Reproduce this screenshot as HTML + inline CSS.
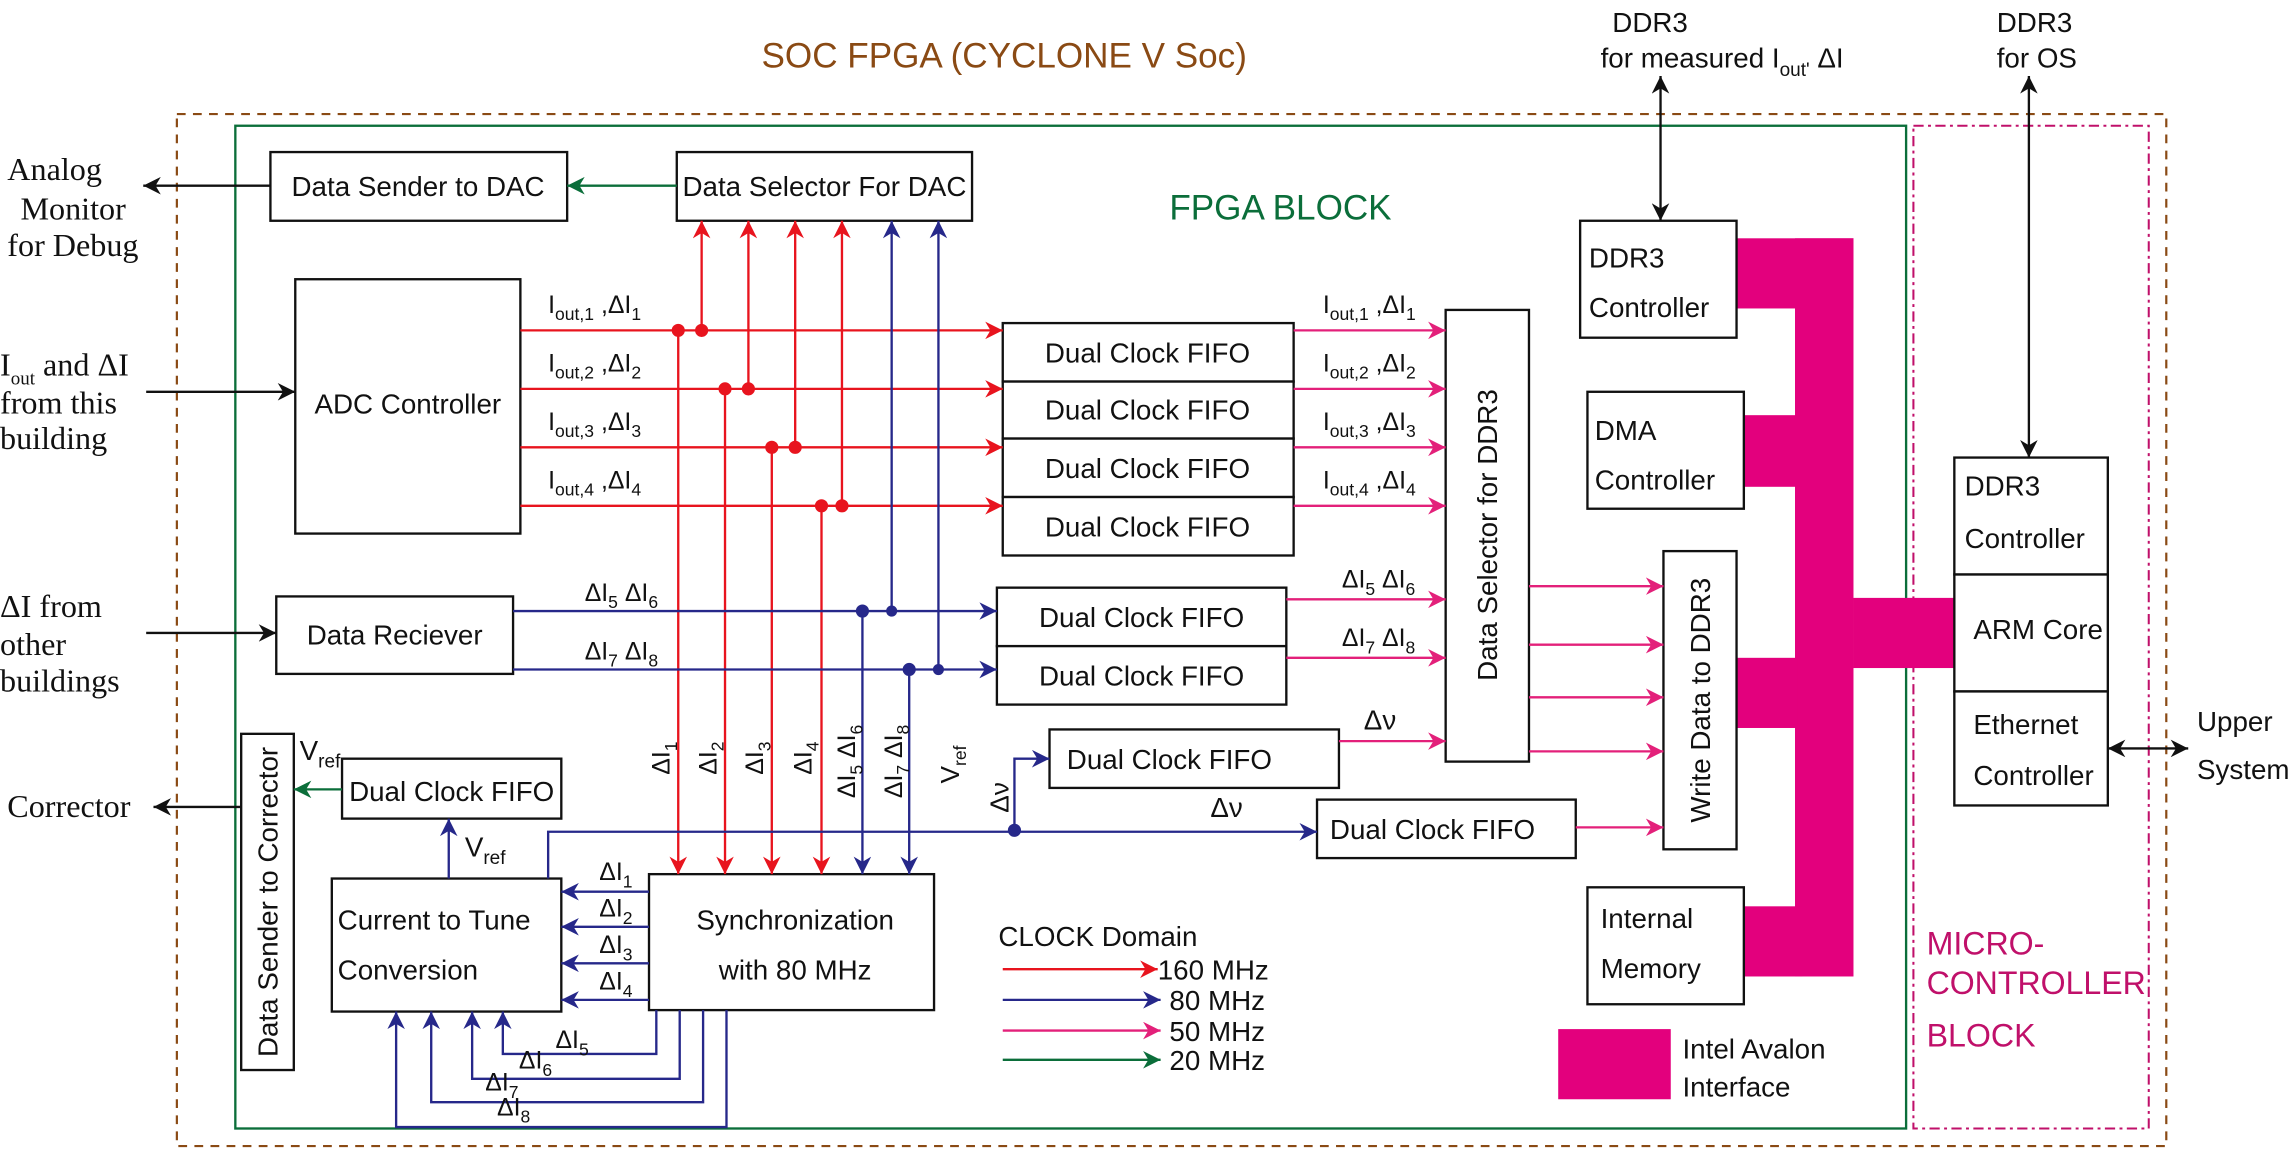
<!DOCTYPE html>
<html><head><meta charset="utf-8"><style>
html,body{margin:0;padding:0;background:#fff;overflow:hidden}
svg{display:block}
text{font-family:"Liberation Sans",sans-serif;font-size:19px;fill:#111}
.s{font-family:"Liberation Serif",serif;font-size:22px}
.b{fill:#fff;stroke:#111;stroke-width:1.6}
.r{stroke:#e8141e;stroke-width:1.6;fill:none}
.u{stroke:#26288a;stroke-width:1.6;fill:none}
.p{stroke:#e3207a;stroke-width:1.6;fill:none}
.g{stroke:#0b6e3a;stroke-width:1.6;fill:none}
.k{stroke:#111;stroke-width:1.6;fill:none}
</style></head><body>
<svg width="2292" height="1149" viewBox="0 0 1568 786" xmlns="http://www.w3.org/2000/svg">
<defs>
<marker id="ar" viewBox="0 0 10 10" refX="10" refY="5" markerWidth="12" markerHeight="12" markerUnits="userSpaceOnUse" orient="auto-start-reverse"><path d="M0,0L10,5L0,10L3,5z" fill="#e8141e"/></marker>
<marker id="au" viewBox="0 0 10 10" refX="10" refY="5" markerWidth="12" markerHeight="12" markerUnits="userSpaceOnUse" orient="auto-start-reverse"><path d="M0,0L10,5L0,10L3,5z" fill="#26288a"/></marker>
<marker id="ap" viewBox="0 0 10 10" refX="10" refY="5" markerWidth="12" markerHeight="12" markerUnits="userSpaceOnUse" orient="auto-start-reverse"><path d="M0,0L10,5L0,10L3,5z" fill="#e3207a"/></marker>
<marker id="ag" viewBox="0 0 10 10" refX="10" refY="5" markerWidth="12" markerHeight="12" markerUnits="userSpaceOnUse" orient="auto-start-reverse"><path d="M0,0L10,5L0,10L3,5z" fill="#0b6e3a"/></marker>
<marker id="ak" viewBox="0 0 10 10" refX="10" refY="5" markerWidth="12" markerHeight="12" markerUnits="userSpaceOnUse" orient="auto-start-reverse"><path d="M0,0L10,5L0,10L3,5z" fill="#111"/></marker>
</defs>

<!-- frames -->
<rect x="121" y="78" width="1361" height="706" fill="none" stroke="#8a4a14" stroke-width="1.5" stroke-dasharray="6,5"/>
<rect x="161" y="86" width="1143" height="686" fill="none" stroke="#0b6e3a" stroke-width="1.6"/>
<rect x="1309" y="86" width="161" height="686" fill="none" stroke="#c0106a" stroke-width="1.4" stroke-dasharray="7,3,2,3"/>
<text x="687" y="46" text-anchor="middle" style="font-size:24px;fill:#8a4a14">SOC FPGA (CYCLONE V Soc)</text>
<text x="876" y="150" text-anchor="middle" style="font-size:24px;fill:#0b6e3a">FPGA BLOCK</text>
<text x="1318" y="653" style="font-size:22px;fill:#c0106a">MICRO-</text>
<text x="1318" y="680" style="font-size:22px;fill:#c0106a" textLength="150" lengthAdjust="spacingAndGlyphs">CONTROLLER</text>
<text x="1318" y="716" style="font-size:22px;fill:#c0106a">BLOCK</text>

<!-- avalon bus -->
<g fill="#e3007d">
<rect x="1188" y="163" width="80" height="48"/>
<rect x="1228" y="163" width="40" height="505"/>
<rect x="1193" y="284" width="40" height="49"/>
<rect x="1188" y="450" width="42" height="48"/>
<rect x="1193" y="620" width="40" height="48"/>
<rect x="1268" y="409" width="69" height="48"/>
<rect x="1066" y="704" width="77" height="48"/>
</g>
<text x="1151" y="724">Intel Avalon</text>
<text x="1151" y="750">Interface</text>

<!-- boxes -->
<rect class="b" x="185" y="104" width="203" height="47"/><text x="286" y="134" text-anchor="middle">Data Sender to DAC</text>
<rect class="b" x="463" y="104" width="202" height="47"/><text x="564" y="134" text-anchor="middle">Data Selector For DAC</text>
<rect class="b" x="202" y="191" width="154" height="174"/><text x="279" y="283" text-anchor="middle">ADC Controller</text>
<rect class="b" x="686" y="221" width="199" height="40"/><text x="785" y="248" text-anchor="middle">Dual Clock FIFO</text>
<rect class="b" x="686" y="261" width="199" height="39"/><text x="785" y="287" text-anchor="middle">Dual Clock FIFO</text>
<rect class="b" x="686" y="300" width="199" height="40"/><text x="785" y="327" text-anchor="middle">Dual Clock FIFO</text>
<rect class="b" x="686" y="340" width="199" height="40"/><text x="785" y="367" text-anchor="middle">Dual Clock FIFO</text>
<rect class="b" x="682" y="402" width="198" height="40"/><text x="781" y="429" text-anchor="middle">Dual Clock FIFO</text>
<rect class="b" x="682" y="442" width="198" height="40"/><text x="781" y="469" text-anchor="middle">Dual Clock FIFO</text>
<rect class="b" x="718" y="499" width="198" height="40"/><text x="800" y="526" text-anchor="middle">Dual Clock FIFO</text>
<rect class="b" x="901" y="547" width="177" height="40"/><text x="980" y="574" text-anchor="middle">Dual Clock FIFO</text>
<rect class="b" x="989" y="212" width="57" height="309"/><text transform="translate(1024,366) rotate(-90)" text-anchor="middle">Data Selector for DDR3</text>
<rect class="b" x="1138" y="377" width="50" height="204"/><text transform="translate(1170,479) rotate(-90)" text-anchor="middle">Write Data to DDR3</text>
<rect class="b" x="1081" y="151" width="107" height="80"/><text x="1087" y="183">DDR3</text><text x="1087" y="217">Controller</text>
<rect class="b" x="1086" y="268" width="107" height="80"/><text x="1091" y="301">DMA</text><text x="1091" y="335">Controller</text>
<rect class="b" x="1086" y="607" width="107" height="80"/><text x="1095" y="635">Internal</text><text x="1095" y="669">Memory</text>
<rect class="b" x="1337" y="313" width="105" height="80"/><text x="1344" y="339">DDR3</text><text x="1344" y="375">Controller</text>
<rect class="b" x="1337" y="393" width="105" height="80"/><text x="1350" y="437">ARM Core</text>
<rect class="b" x="1337" y="473" width="105" height="78"/><text x="1350" y="502">Ethernet</text><text x="1350" y="537">Controller</text>
<rect class="b" x="189" y="408" width="162" height="53"/><text x="270" y="441" text-anchor="middle">Data Reciever</text>
<rect class="b" x="165" y="502" width="36" height="230"/><text transform="translate(190,617) rotate(-90)" text-anchor="middle">Data Sender to Corrector</text>
<rect class="b" x="234" y="519" width="150" height="41"/><text x="309" y="548" text-anchor="middle">Dual Clock FIFO</text>
<rect class="b" x="227" y="601" width="157" height="91"/><text x="231" y="636">Current to Tune</text><text x="231" y="670">Conversion</text>
<rect class="b" x="444" y="598" width="195" height="93"/><text x="544" y="636" text-anchor="middle">Synchronization</text><text x="544" y="670" text-anchor="middle">with 80 MHz</text>

<!-- external labels -->
<text class="s" x="5" y="123">Analog</text><text class="s" x="14" y="150">Monitor</text><text class="s" x="5" y="175">for Debug</text>
<text class="s" x="0" y="257">I<tspan dy="6" style="font-size:13px">out</tspan><tspan dy="-6"> and ΔI</tspan></text>
<text class="s" x="0" y="283">from this</text><text class="s" x="0" y="307">building</text>
<text class="s" x="0" y="422">ΔI from</text><text class="s" x="0" y="448">other</text><text class="s" x="0" y="473">buildings</text>
<text class="s" x="5" y="559">Corrector</text>
<text x="1103" y="22">DDR3</text>
<text x="1095" y="46">for measured I<tspan dy="6" style="font-size:13px">out'</tspan><tspan dy="-6"> ΔI</tspan></text>
<text x="1366" y="22">DDR3</text><text x="1366" y="46">for OS</text>
<text x="1503" y="500">Upper</text><text x="1503" y="533">System</text>

<!-- black arrows -->
<line class="k" x1="185" y1="127" x2="98" y2="127" marker-end="url(#ak)"/>
<line class="k" x1="100" y1="268" x2="202" y2="268" marker-end="url(#ak)"/>
<line class="k" x1="100" y1="433" x2="189" y2="433" marker-end="url(#ak)"/>
<line class="k" x1="165" y1="552" x2="105" y2="552" marker-end="url(#ak)"/>
<line class="k" x1="1136" y1="52" x2="1136" y2="151" marker-start="url(#ak)" marker-end="url(#ak)"/>
<line class="k" x1="1388" y1="52" x2="1388" y2="313" marker-start="url(#ak)" marker-end="url(#ak)"/>
<line class="k" x1="1442" y1="512" x2="1497" y2="512" marker-start="url(#ak)" marker-end="url(#ak)"/>

<!-- green -->
<line class="g" x1="463" y1="127" x2="388" y2="127" marker-end="url(#ag)"/>
<line class="g" x1="234" y1="540" x2="201" y2="540" marker-end="url(#ag)"/>
<text x="205" y="520">V<tspan dy="5" style="font-size:13px">ref</tspan></text>

<!-- red -->
<line class="r" x1="356" y1="226" x2="686" y2="226" marker-end="url(#ar)"/>
<line class="r" x1="356" y1="266" x2="686" y2="266" marker-end="url(#ar)"/>
<line class="r" x1="356" y1="306" x2="686" y2="306" marker-end="url(#ar)"/>
<line class="r" x1="356" y1="346" x2="686" y2="346" marker-end="url(#ar)"/>
<line class="r" x1="480" y1="226" x2="480" y2="151" marker-end="url(#ar)"/>
<line class="r" x1="512" y1="266" x2="512" y2="151" marker-end="url(#ar)"/>
<line class="r" x1="544" y1="306" x2="544" y2="151" marker-end="url(#ar)"/>
<line class="r" x1="576" y1="346" x2="576" y2="151" marker-end="url(#ar)"/>
<line class="r" x1="464" y1="226" x2="464" y2="598" marker-end="url(#ar)"/>
<line class="r" x1="496" y1="266" x2="496" y2="598" marker-end="url(#ar)"/>
<line class="r" x1="528" y1="306" x2="528" y2="598" marker-end="url(#ar)"/>
<line class="r" x1="562" y1="346" x2="562" y2="598" marker-end="url(#ar)"/>
<g fill="#e8141e"><circle cx="464" cy="226" r="4.5"/><circle cx="480" cy="226" r="4.5"/><circle cx="496" cy="266" r="4.5"/><circle cx="512" cy="266" r="4.5"/><circle cx="528" cy="306" r="4.5"/><circle cx="544" cy="306" r="4.5"/><circle cx="562" cy="346" r="4.5"/><circle cx="576" cy="346" r="4.5"/></g>
<text x="375" y="214" style="font-size:17px">I<tspan dy="5" style="font-size:12px">out,1</tspan><tspan dy="-5"> ,ΔI</tspan><tspan dy="5" style="font-size:12px">1</tspan></text>
<text x="375" y="254" style="font-size:17px">I<tspan dy="5" style="font-size:12px">out,2</tspan><tspan dy="-5"> ,ΔI</tspan><tspan dy="5" style="font-size:12px">2</tspan></text>
<text x="375" y="294" style="font-size:17px">I<tspan dy="5" style="font-size:12px">out,3</tspan><tspan dy="-5"> ,ΔI</tspan><tspan dy="5" style="font-size:12px">3</tspan></text>
<text x="375" y="334" style="font-size:17px">I<tspan dy="5" style="font-size:12px">out,4</tspan><tspan dy="-5"> ,ΔI</tspan><tspan dy="5" style="font-size:12px">4</tspan></text>
<text x="905" y="214" style="font-size:17px">I<tspan dy="5" style="font-size:12px">out,1</tspan><tspan dy="-5"> ,ΔI</tspan><tspan dy="5" style="font-size:12px">1</tspan></text>
<text x="905" y="254" style="font-size:17px">I<tspan dy="5" style="font-size:12px">out,2</tspan><tspan dy="-5"> ,ΔI</tspan><tspan dy="5" style="font-size:12px">2</tspan></text>
<text x="905" y="294" style="font-size:17px">I<tspan dy="5" style="font-size:12px">out,3</tspan><tspan dy="-5"> ,ΔI</tspan><tspan dy="5" style="font-size:12px">3</tspan></text>
<text x="905" y="334" style="font-size:17px">I<tspan dy="5" style="font-size:12px">out,4</tspan><tspan dy="-5"> ,ΔI</tspan><tspan dy="5" style="font-size:12px">4</tspan></text>

<!-- blue -->
<line class="u" x1="351" y1="418" x2="682" y2="418" marker-end="url(#au)"/>
<line class="u" x1="351" y1="458" x2="682" y2="458" marker-end="url(#au)"/>
<line class="u" x1="610" y1="418" x2="610" y2="151" marker-end="url(#au)"/>
<line class="u" x1="642" y1="458" x2="642" y2="151" marker-end="url(#au)"/>
<line class="u" x1="590" y1="418" x2="590" y2="598" marker-end="url(#au)"/>
<line class="u" x1="622" y1="458" x2="622" y2="598" marker-end="url(#au)"/>
<g fill="#26288a"><circle cx="590" cy="418" r="4.5"/><circle cx="610" cy="418" r="3.8"/><circle cx="622" cy="458" r="4.5"/><circle cx="642" cy="458" r="3.8"/><circle cx="694" cy="568" r="4.5"/></g>
<text x="400" y="411" style="font-size:17px">ΔI<tspan dy="5" style="font-size:12px">5</tspan><tspan dy="-5"> ΔI</tspan><tspan dy="5" style="font-size:12px">6</tspan></text>
<text x="400" y="451" style="font-size:17px">ΔI<tspan dy="5" style="font-size:12px">7</tspan><tspan dy="-5"> ΔI</tspan><tspan dy="5" style="font-size:12px">8</tspan></text>
<text transform="translate(458,530) rotate(-90)" style="font-size:17px">ΔI<tspan dy="5" style="font-size:12px">1</tspan></text>
<text transform="translate(490,530) rotate(-90)" style="font-size:17px">ΔI<tspan dy="5" style="font-size:12px">2</tspan></text>
<text transform="translate(522,530) rotate(-90)" style="font-size:17px">ΔI<tspan dy="5" style="font-size:12px">3</tspan></text>
<text transform="translate(555,530) rotate(-90)" style="font-size:17px">ΔI<tspan dy="5" style="font-size:12px">4</tspan></text>
<text transform="translate(585,546) rotate(-90)" style="font-size:17px">ΔI<tspan dy="5" style="font-size:12px">5</tspan><tspan dy="-5"> ΔI</tspan><tspan dy="5" style="font-size:12px">6</tspan></text>
<text transform="translate(617,546) rotate(-90)" style="font-size:17px">ΔI<tspan dy="5" style="font-size:12px">7</tspan><tspan dy="-5"> ΔI</tspan><tspan dy="5" style="font-size:12px">8</tspan></text>
<text transform="translate(656,536) rotate(-90)" style="font-size:18px">V<tspan dy="5" style="font-size:12px">ref</tspan></text>
<text transform="translate(690,556) rotate(-90)" style="font-size:18px">Δν</text>
<polyline class="u" points="375,601 375,569 901,569" marker-end="url(#au)"/>
<polyline class="u" points="694,569 694,519 718,519" marker-end="url(#au)"/>
<text x="828" y="559">Δν</text>
<line class="u" x1="307" y1="601" x2="307" y2="560" marker-end="url(#au)"/>
<text x="318" y="586">V<tspan dy="5" style="font-size:13px">ref</tspan></text>
<line class="u" x1="444" y1="610" x2="384" y2="610" marker-end="url(#au)"/>
<line class="u" x1="444" y1="634" x2="384" y2="634" marker-end="url(#au)"/>
<line class="u" x1="444" y1="659" x2="384" y2="659" marker-end="url(#au)"/>
<line class="u" x1="444" y1="684" x2="384" y2="684" marker-end="url(#au)"/>
<text x="410" y="602" style="font-size:17px">ΔI<tspan dy="5" style="font-size:12px">1</tspan></text>
<text x="410" y="627" style="font-size:17px">ΔI<tspan dy="5" style="font-size:12px">2</tspan></text>
<text x="410" y="652" style="font-size:17px">ΔI<tspan dy="5" style="font-size:12px">3</tspan></text>
<text x="410" y="677" style="font-size:17px">ΔI<tspan dy="5" style="font-size:12px">4</tspan></text>
<polyline class="u" points="449,691 449,721 344,721 344,692" marker-end="url(#au)"/>
<polyline class="u" points="465,691 465,738 323,738 323,692" marker-end="url(#au)"/>
<polyline class="u" points="481,691 481,754 295,754 295,692" marker-end="url(#au)"/>
<polyline class="u" points="497,691 497,771 271,771 271,692" marker-end="url(#au)"/>
<text x="380" y="717" style="font-size:17px">ΔI<tspan dy="5" style="font-size:12px">5</tspan></text>
<text x="355" y="731" style="font-size:17px">ΔI<tspan dy="5" style="font-size:12px">6</tspan></text>
<text x="332" y="746" style="font-size:17px">ΔI<tspan dy="5" style="font-size:12px">7</tspan></text>
<text x="340" y="763" style="font-size:17px">ΔI<tspan dy="5" style="font-size:12px">8</tspan></text>

<!-- pink -->
<line class="p" x1="885" y1="226" x2="989" y2="226" marker-end="url(#ap)"/>
<line class="p" x1="885" y1="266" x2="989" y2="266" marker-end="url(#ap)"/>
<line class="p" x1="885" y1="306" x2="989" y2="306" marker-end="url(#ap)"/>
<line class="p" x1="885" y1="346" x2="989" y2="346" marker-end="url(#ap)"/>
<line class="p" x1="880" y1="410" x2="989" y2="410" marker-end="url(#ap)"/>
<line class="p" x1="880" y1="450" x2="989" y2="450" marker-end="url(#ap)"/>
<line class="p" x1="916" y1="507" x2="989" y2="507" marker-end="url(#ap)"/>
<text x="918" y="402" style="font-size:17px">ΔI<tspan dy="5" style="font-size:12px">5</tspan><tspan dy="-5"> ΔI</tspan><tspan dy="5" style="font-size:12px">6</tspan></text>
<text x="918" y="442" style="font-size:17px">ΔI<tspan dy="5" style="font-size:12px">7</tspan><tspan dy="-5"> ΔI</tspan><tspan dy="5" style="font-size:12px">8</tspan></text>
<text x="933" y="499">Δν</text>
<line class="p" x1="1046" y1="401" x2="1138" y2="401" marker-end="url(#ap)"/>
<line class="p" x1="1046" y1="441" x2="1138" y2="441" marker-end="url(#ap)"/>
<line class="p" x1="1046" y1="477" x2="1138" y2="477" marker-end="url(#ap)"/>
<line class="p" x1="1046" y1="514" x2="1138" y2="514" marker-end="url(#ap)"/>
<line class="p" x1="1078" y1="566" x2="1138" y2="566" marker-end="url(#ap)"/>

<!-- legend -->
<text x="683" y="647">CLOCK Domain</text>
<line class="r" x1="686" y1="663" x2="792" y2="663" marker-end="url(#ar)"/><text x="792" y="670">160 MHz</text>
<line class="u" x1="686" y1="684" x2="794" y2="684" marker-end="url(#au)"/><text x="800" y="691">80 MHz</text>
<line class="p" x1="686" y1="705" x2="794" y2="705" marker-end="url(#ap)"/><text x="800" y="712">50 MHz</text>
<line class="g" x1="686" y1="725" x2="794" y2="725" marker-end="url(#ag)"/><text x="800" y="732">20 MHz</text>
</svg>
</body></html>
